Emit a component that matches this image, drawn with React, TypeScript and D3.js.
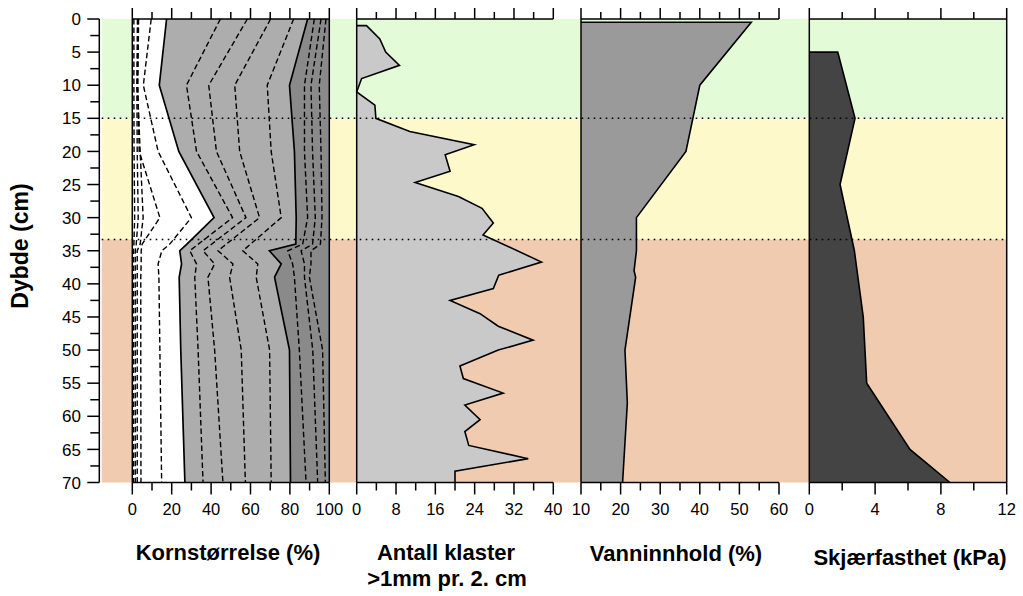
import React from "react";
import * as d3 from "d3";

// depth zones (cm)
const zoneBreaks = [0, 15, 33.3, 70];
const zoneColors = ["#e3fcd7", "#fdf9cb", "#f0cbb0"];

// Kornstørrelse: cumulative % curves, same depth for all
const grainDepth = [0, 10, 20, 30, 34, 35, 37, 39, 50, 70];
const fine1 = [0.8, 0.8, 0.9, 1.2, 0.8, 0.6, 0.6, 0.6, 0.6, 0.6];
const fine2 = [2.6, 2.3, 2.5, 3.0, 2.0, 1.5, 1.5, 1.5, 1.5, 1.5];
const fine3 = [2.9, 2.6, 4.0, 5.5, 4.0, 2.5, 2.5, 2.5, 2.5, 2.5];
const fine4 = [3.2, 2.8, 3.5, 14.0, 5.0, 4.5, 4.5, 4.3, 4.3, 4.4];
const silt = [9.6, 5.6, 13.1, 30.0, 19.0, 15.0, 13.1, 13.5, 14.0, 14.9];
const clayLimit = [17.4, 13.7, 23.6, 41.5, 27.7, 24.1, 25.0, 23.8, 24.6, 26.7];
const sand1 = [44.7, 27.5, 32.6, 50.9, 33.5, 29.2, 32.6, 31.7, 33.4, 35.9];
const sand2 = [58.4, 38.8, 42.7, 57.7, 40.3, 35.9, 41.8, 38.4, 41.8, 46.0];
const sand3 = [70.2, 52.0, 54.5, 64.6, 47.7, 43.5, 51.1, 49.4, 55.3, 57.4];
const sand4 = [81.9, 68.5, 70.5, 75.6, 60.0, 56.1, 63.7, 62.9, 69.7, 70.5];
const sandLimit = [89.0, 79.8, 82.3, 83.2, 83.0, 69.6, 75.6, 72.2, 79.8, 80.3];
const gravel1 = [92.4, 87.4, 87.4, 89.0, 86.5, 78.9, 81.4, 82.3, 84.8, 88.2];
const gravel2 = [95.8, 90.7, 91.5, 92.9, 91.5, 85.7, 87.4, 87.4, 91.6, 94.1];
const gravel3 = [98.3, 94.9, 95.8, 96.3, 95.5, 90.7, 90.7, 89.9, 96.6, 98.0];

// Antall klaster
const clastDepth = [1, 1, 3, 5, 7, 9, 11, 13, 15, 17, 19, 20.5, 23, 24.7, 26.8, 28.6, 30.8, 32.6, 36.7, 38.7, 40.7, 42.5, 44.5, 46.4, 48.5, 50, 52.4, 54.3, 56.5, 58.3, 60.5, 62.3, 64.4, 66.4, 68.3, 70];
const clastCount = [0, 2.0, 4.7, 5.9, 8.7, 1.0, 0, 3.7, 3.9, 10.8, 23.9, 18.0, 19.0, 11.9, 20.7, 25.5, 27.8, 25.7, 37.6, 28.9, 27.8, 19.0, 25.1, 28.8, 35.9, 28.8, 21.0, 21.7, 29.8, 22.0, 25.1, 22.0, 22.8, 34.9, 20.0, 20.0];

// Vanninnhold
const waterDepth = [0.5, 0.5, 10, 20, 30, 35, 38, 39, 50, 58, 70];
const waterPct = [10, 53, 40, 36.5, 24, 24, 23.4, 23.8, 21.1, 21.7, 20.5];

// Skjærfasthet
const shearDepth = [5, 5, 15, 25, 35, 45, 55, 65, 70];
const shearKpa = [0, 1.73, 2.78, 1.87, 2.74, 3.28, 3.49, 6.12, 8.55];

const W = 1023;
const H = 596;
const font = "'Liberation Sans', Arial, sans-serif";

const y = d3.scaleLinear().domain([0, 70]).range([19, 482.5]);
const xGrain = d3.scaleLinear().domain([0, 100]).range([132.3, 329.3]);
const xClast = d3.scaleLinear().domain([0, 40]).range([356.7, 553.3]);
const xWater = d3.scaleLinear().domain([10, 60]).range([581, 779]);
const xShear = d3.scaleLinear().domain([0, 12]).range([809.3, 1006.7]);

const range = (a: number, b: number, s: number) => d3.range(a, b + s / 2, s);

const HAxis = ({ x, major, minor, labels }: any) => {
  const [x0, x1] = x.range();
  const top = y(0);
  const bot = y(70);
  return (
    <g stroke="#000" strokeWidth={1.5}>
      <line x1={x0} x2={x1} y1={top} y2={top} />
      <line x1={x0} x2={x1} y1={bot} y2={bot} />
      {major.map((t: number) => (
        <g key={"M" + t}>
          <line x1={x(t)} x2={x(t)} y1={top} y2={top - 11} />
          <line x1={x(t)} x2={x(t)} y1={bot} y2={bot + 12} />
        </g>
      ))}
      {minor.map((t: number) => (
        <g key={"m" + t}>
          <line x1={x(t)} x2={x(t)} y1={top} y2={top - 7} />
          <line x1={x(t)} x2={x(t)} y1={bot} y2={bot + 8} />
        </g>
      ))}
      {labels &&
        major.map((t: number) => (
          <text key={"l" + t} x={x(t)} y={515} textAnchor="middle" stroke="none" fill="#000" fontSize={16.5} fontFamily={font}>
            {t}
          </text>
        ))}
    </g>
  );
};

const vLine = (x: any) => <line x1={x} x2={x} y1={y(0)} y2={y(70)} stroke="#000" strokeWidth={1.5} />;

export default function App() {
  const grainCurve = (vals: number[]) =>
    d3.line<number>().x((v) => xGrain(v)).y((_, i) => y(grainDepth[i]))(vals) as string;
  const grainBand = (lo: number[], hi: number[]) =>
    d3
      .area<number>()
      .y((_, i) => y(grainDepth[i]))
      .x0((_, i) => xGrain(lo[i]))
      .x1((_, i) => xGrain(hi[i]))(grainDepth) as string;
  const full = grainDepth.map(() => 100);

  const profile = (xs: any, depth: number[], vals: number[], base: number) => {
    const pts = depth.map((d, i) => [vals[i], d] as [number, number]);
    const area = d3
      .area<[number, number]>()
      .y((p) => y(p[1]))
      .x0(() => xs(base))
      .x1((p) => xs(p[0]))(pts) as string;
    const line = d3
      .line<[number, number]>()
      .x((p) => xs(p[0]))
      .y((p) => y(p[1]))(pts) as string;
    return { area, line };
  };

  const clast = profile(xClast, clastDepth, clastCount, 0);
  const water = profile(xWater, waterDepth, waterPct, 10);
  const shear = profile(xShear, shearDepth, shearKpa, 0);

  const dashed = "5.5,3";

  return (
    <svg width={W} height={H} style={{ position: "absolute", left: 0, top: 0, background: "#fff" }}>
      {/* zone bands */}
      {zoneColors.map((c, i) => (
        <rect key={c} x={101.7} width={1006.7 - 101.7} y={y(zoneBreaks[i])} height={y(zoneBreaks[i + 1]) - y(zoneBreaks[i])} fill={c} />
      ))}

      {/* Kornstørrelse */}
      <rect x={xGrain(0)} y={y(0)} width={xGrain(100) - xGrain(0)} height={y(70) - y(0)} fill="#fff" />
      <path d={grainBand(clayLimit, full)} fill="#adadad" />
      <path d={grainBand(sandLimit, full)} fill="#8a8a8a" />
      {[fine1, fine2, fine3, fine4, silt, sand1, sand2, sand3, sand4, gravel1, gravel2, gravel3].map((c, i) => (
        <path key={i} d={grainCurve(c)} fill="none" stroke="#000" strokeWidth={1.4} strokeDasharray={dashed} />
      ))}
      <path d={grainCurve(clayLimit)} fill="none" stroke="#000" strokeWidth={1.7} />
      <path d={grainCurve(sandLimit)} fill="none" stroke="#000" strokeWidth={1.7} />

      {/* profiles */}
      <path d={clast.area} fill="#c9c9c9" />
      <path d={clast.line} fill="none" stroke="#000" strokeWidth={1.6} />
      <path d={water.area} fill="#9a9a9a" />
      <path d={water.line} fill="none" stroke="#000" strokeWidth={1.6} />
      <path d={shear.area} fill="#444444" />
      <path d={shear.line} fill="none" stroke="#000" strokeWidth={1.6} />

      {/* zone boundaries */}
      {zoneBreaks.slice(1, 3).map((b) => (
        <line key={b} x1={101.7} x2={1005} y1={y(b)} y2={y(b)} stroke="#000" strokeWidth={1.6} strokeDasharray="1.6,4.4" />
      ))}

      {/* axes */}
      <HAxis x={xGrain} major={range(0, 100, 20)} minor={range(10, 90, 20)} labels />
      <HAxis x={xClast} major={range(0, 40, 8)} minor={range(4, 36, 8)} labels />
      <HAxis x={xWater} major={range(10, 60, 10)} minor={range(15, 55, 10)} labels />
      <HAxis x={xShear} major={range(0, 12, 4)} minor={range(2, 10, 4)} labels />
      {vLine(xGrain(0))}
      {vLine(xGrain(100))}
      {vLine(xClast(0))}
      {vLine(xWater(10))}
      {vLine(xShear(0))}
      {vLine(xShear(12))}

      {/* depth axis */}
      <g stroke="#000" strokeWidth={1.5}>
        <line x1={99.3} x2={99.3} y1={y(0)} y2={y(70)} />
        {range(0, 70, 5).map((t) => (
          <line key={"M" + t} x1={99.3} x2={87.3} y1={y(t)} y2={y(t)} />
        ))}
        {range(2.5, 67.5, 5).map((t) => (
          <line key={"m" + t} x1={99.3} x2={90.3} y1={y(t)} y2={y(t)} />
        ))}
        {range(0, 70, 5).map((t) => (
          <text key={"l" + t} x={81} y={y(t)} dy="0.36em" textAnchor="end" stroke="none" fill="#000" fontSize={17} fontFamily={font}>
            {t}
          </text>
        ))}
      </g>
      <text transform="translate(28,246) rotate(-90)" textAnchor="middle" fontSize={23} fontWeight="bold" fontFamily={font}>
        Dybde (cm)
      </text>

      {/* titles */}
      <g fontSize={22} fontWeight="bold" fontFamily={font} textAnchor="middle">
        <text x={228} y={560}>Kornstørrelse (%)</text>
        <text x={446} y={560}>Antall klaster</text>
        <text x={447} y={586}>&gt;1mm pr. 2. cm</text>
        <text x={676} y={561}>Vanninnhold (%)</text>
        <text x={910} y={565}>Skjærfasthet (kPa)</text>
      </g>
    </svg>
  );
}
